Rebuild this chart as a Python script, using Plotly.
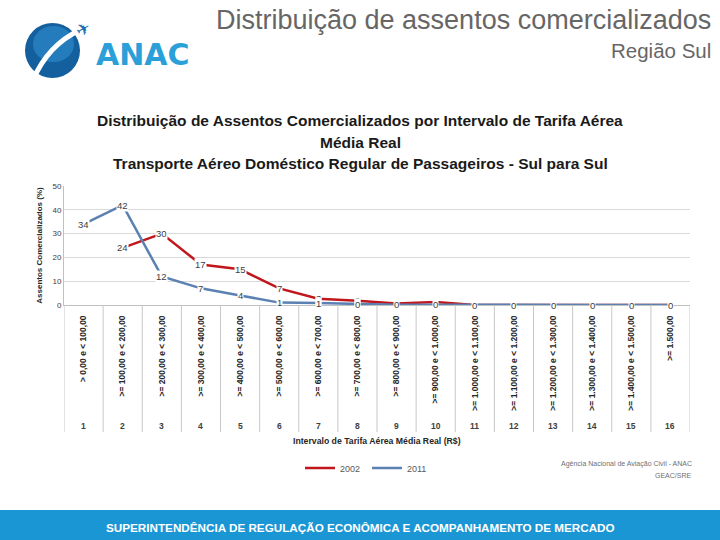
import plotly.graph_objects as go

categories = list(range(1, 16 + 1))
tick_labels = [
    "> 0,00 e < 100,00", ">= 100,00 e < 200,00", ">= 200,00 e < 300,00",
    ">= 300,00 e < 400,00", ">= 400,00 e < 500,00", ">= 500,00 e < 600,00",
    ">= 600,00 e < 700,00", ">= 700,00 e < 800,00", ">= 800,00 e < 900,00",
    ">= 900,00 e < 1.000,00", ">= 1.000,00 e < 1.100,00", ">= 1.100,00 e < 1.200,00",
    ">= 1.200,00 e < 1.300,00", ">= 1.300,00 e < 1.400,00", ">= 1.400,00 e < 1.500,00",
    ">= 1.500,00",
]
values_2002 = [None, 24, 30, 17, 15, 7, 2.6, 1.8, 0.6, 1.3, 0, 0, 0, 0, 0, 0]
values_2011 = [34, 42, 12, 7, 4, 1, 0.8, 0.3, 0.1, 0.1, 0, 0, 0, 0, 0, 0]
labels_2002_shown = [2, 3, 4, 5, 6, 7, 8]

RED = "#c0161c"
BLUE = "#5b80b2"
FONT = "Liberation Sans, Arial, sans-serif"

# layout geometry (pixels)
W, H = 720, 540
L, R, T, B = 64, 690, 186, 305


def px(x):
    return (x - L) / (R - L)


def py(y):
    return (B - y) / (B - T)


def txt(x, y, text, size, color, xanchor="center", family=FONT, **kw):
    return dict(x=px(x), y=py(y), xref="paper", yref="paper", xanchor=xanchor,
                yanchor="middle", text=text, showarrow=False,
                font=dict(size=size, color=color, family=family), **kw)


fig = go.Figure()
fig.add_trace(go.Scatter(x=categories, y=values_2002, mode="lines", name="2002",
                         line=dict(color=RED, width=2.5), connectgaps=False))
fig.add_trace(go.Scatter(x=categories, y=values_2011, mode="lines", name="2011",
                         line=dict(color=BLUE, width=2.5)))

ann = []
lab_font = dict(size=9.5, color="#404040", family=FONT)
# data labels (2002 first so 2011 labels sit on top, as in the reference)
for c, v in zip(categories, values_2002):
    if c in labels_2002_shown and v is not None:
        ann.append(dict(x=c, y=v, xref="x", yref="y", text=str(round(v)), showarrow=False,
                        xanchor="center", yanchor="middle",
                        bgcolor="white", font=lab_font, borderpad=0))
for c, v in zip(categories, values_2011):
    ann.append(dict(x=c, y=v, xref="x", yref="y", text=str(round(v)), showarrow=False,
                    xanchor="center", yanchor="middle",
                    bgcolor="white", font=lab_font, borderpad=0))
# category numbers
for c in categories:
    ann.append(dict(x=c, y=py(426), xref="x", yref="paper", text="<b>" + str(c) + "</b>",
                    xanchor="center", yanchor="middle",
                    showarrow=False, font=dict(size=8.5, color="#404040", family=FONT)))

# titles
ann.append(txt(713, 20, "Distribuição de assentos comercializados", 27, "#666666", xanchor="right"))
ann.append(txt(713, 50, "Região Sul", 20.5, "#666666", xanchor="right"))
chart_title = ["Distribuição de Assentos Comercializados por Intervalo de Tarifa Aérea",
               "Média Real",
               "Transporte Aéreo Doméstico Regular de Passageiros - Sul para Sul"]
for t, yy in zip(chart_title, [120, 142, 163]):
    ann.append(txt(360, yy, "<b>" + t + "</b>", 15.5, "#1a1a1a"))
ann.append(txt(377, 441, "<b>Intervalo de Tarifa Aérea Média Real (R$)</b>", 8.7, "#262626"))
ann.append(txt(694, 464, "Agência Nacional de Aviação Civil - ANAC", 7, "#707070", xanchor="right"))
ann.append(txt(694, 475, "GEAC/SRE", 7, "#707070", xanchor="right"))
# footer text
ann.append(txt(360, 527,
               "<b>SUPERINTENDÊNCIA DE REGULAÇÃO ECONÔMICA E ACOMPANHAMENTO DE MERCADO</b>",
               11.7, "white"))
# logo text
ann.append(txt(143, 54, "<b>ANAC</b>", 30, "#2a9fd8", family="DejaVu Sans"))
ann.append(txt(83, 29, "✈", 17, "#1a6fb0", family="DejaVu Sans", textangle=-30))

shapes = []
# vertical separators for category table
for i in range(0, 17):
    shapes.append(dict(type="line", xref="x", yref="paper", x0=i + 0.5, x1=i + 0.5,
                       y0=0, y1=py(432), line=dict(color="#c8c8c8", width=1)))
# footer band
shapes.append(dict(type="rect", xref="paper", yref="paper", x0=px(0), x1=px(720),
                   y0=py(510), y1=py(541), fillcolor="#1b96d4", line=dict(width=0),
                   layer="below"))
# logo globe
shapes.append(dict(type="circle", xref="paper", yref="paper", x0=px(25), x1=px(80),
                   y0=py(23), y1=py(78), fillcolor="#14609f", line=dict(width=0)))
shapes.append(dict(type="circle", xref="paper", yref="paper", x0=px(33), x1=px(74),
                   y0=py(26), y1=py(62), fillcolor="#2f8fd0", line=dict(width=0),
                   opacity=0.6))
shapes.append(dict(type="path", xref="paper", yref="paper",
                   path=f"M {px(33)} {py(80)} Q {px(48)} {py(45)} {px(80)} {py(30)}",
                   line=dict(color="white", width=5)))

fig.update_layout(
    width=W, height=H,
    margin=dict(l=L, r=W - R, t=T, b=H - B, pad=0),
    paper_bgcolor="white", plot_bgcolor="white",
    showlegend=True,
    legend=dict(orientation="h", x=px(300), y=py(468), xanchor="left", yanchor="middle",
                font=dict(size=9, color="#595959", family=FONT), bgcolor="rgba(0,0,0,0)",
                entrywidth=22, itemwidth=30),
    annotations=ann, shapes=shapes,
    xaxis=dict(range=[0.5, 16.5], tickmode="array", tickvals=categories, ticktext=tick_labels,
               tickangle=-90, tickfont=dict(size=8.5, color="#262626", family=FONT, weight="bold"),
               ticklabelstandoff=6,
               showgrid=False, showline=True, linecolor="#c0c0c0", ticks="", zeroline=False),
    yaxis=dict(range=[0, 50], dtick=10, showgrid=True, gridcolor="#d9d9d9",
               showline=True, linecolor="#c0c0c0", zeroline=False,
               tickfont=dict(size=8, color="#404040", family=FONT),
               title=dict(text="<b>Assentos Comercializados (%)</b>", standoff=8,
                          font=dict(size=8, color="#262626", family=FONT))),
)

fig.write_html("out.html", config={"displayModeBar": False},
               post_script="document.body.style.margin='0px';")
